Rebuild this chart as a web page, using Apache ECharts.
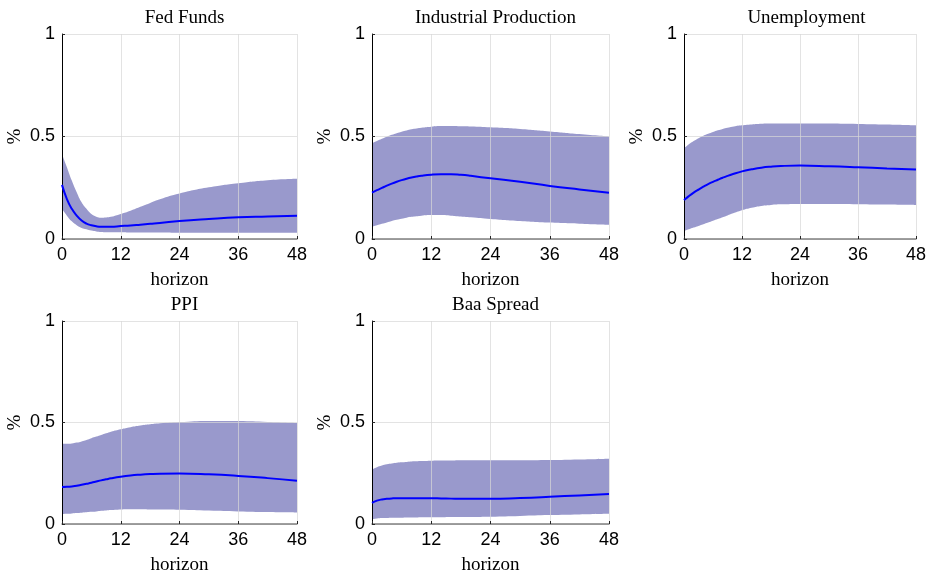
<!DOCTYPE html>
<html>
<head>
<meta charset="utf-8">
<script src="https://cdn.jsdelivr.net/npm/echarts@6/dist/echarts.min.js"></script>
<style>
  html, body { margin: 0; padding: 0; background: #fff; }
  #chart { width: 929px; height: 576px; }
</style>
</head>
<body>
<div id="chart"></div>
<script>
// horizons shared by every panel
const horizons = [0, 1, 2, 3, 4, 5, 6, 7, 8, 9, 10, 12, 14, 16, 18, 20, 24, 30, 36, 42, 48]

const fedUpper = [0.415, 0.35, 0.285, 0.228, 0.179, 0.147, 0.122, 0.109, 0.104, 0.105, 0.108, 0.122, 0.138, 0.157, 0.176, 0.194, 0.222, 0.252, 0.272, 0.287, 0.294]
const fedMean = [0.264, 0.195, 0.147, 0.114, 0.09, 0.075, 0.067, 0.062, 0.06, 0.06, 0.06, 0.063, 0.066, 0.07, 0.074, 0.078, 0.088, 0.098, 0.106, 0.11, 0.114]
const fedLower = [0.147, 0.114, 0.086, 0.067, 0.054, 0.047, 0.041, 0.037, 0.034, 0.033, 0.033, 0.033, 0.032, 0.032, 0.032, 0.032, 0.031, 0.031, 0.031, 0.031, 0.031]

const ipUpper = [0.467, 0.478, 0.489, 0.499, 0.508, 0.516, 0.523, 0.529, 0.535, 0.539, 0.543, 0.548, 0.551, 0.551, 0.55, 0.549, 0.545, 0.537, 0.525, 0.512, 0.5]
const ipMean = [0.226, 0.238, 0.249, 0.26, 0.27, 0.279, 0.287, 0.294, 0.3, 0.305, 0.309, 0.314, 0.316, 0.316, 0.313, 0.308, 0.296, 0.279, 0.259, 0.242, 0.226]
const ipLower = [0.06, 0.067, 0.074, 0.081, 0.088, 0.094, 0.099, 0.104, 0.108, 0.111, 0.114, 0.117, 0.117, 0.114, 0.11, 0.106, 0.098, 0.088, 0.08, 0.075, 0.07]

const unUpper = [0.442, 0.462, 0.478, 0.492, 0.504, 0.513, 0.522, 0.53, 0.537, 0.543, 0.548, 0.555, 0.559, 0.562, 0.563, 0.564, 0.564, 0.563, 0.561, 0.558, 0.554]
const unMean = [0.19, 0.209, 0.226, 0.241, 0.255, 0.268, 0.279, 0.289, 0.299, 0.308, 0.316, 0.33, 0.34, 0.348, 0.353, 0.356, 0.358, 0.355, 0.35, 0.344, 0.339]
const unLower = [0.04, 0.048, 0.056, 0.064, 0.072, 0.08, 0.089, 0.097, 0.106, 0.115, 0.124, 0.14, 0.152, 0.161, 0.166, 0.169, 0.171, 0.171, 0.17, 0.168, 0.166]

const ppiUpper = [0.395, 0.395, 0.397, 0.401, 0.407, 0.414, 0.423, 0.431, 0.439, 0.447, 0.455, 0.467, 0.477, 0.485, 0.491, 0.496, 0.502, 0.508, 0.507, 0.503, 0.498]
const ppiMean = [0.182, 0.183, 0.185, 0.188, 0.193, 0.198, 0.203, 0.209, 0.215, 0.22, 0.225, 0.233, 0.239, 0.243, 0.246, 0.248, 0.249, 0.245, 0.237, 0.226, 0.213]
const ppiLower = [0.049, 0.05, 0.052, 0.054, 0.056, 0.058, 0.06, 0.062, 0.065, 0.067, 0.069, 0.072, 0.073, 0.073, 0.072, 0.071, 0.07, 0.066, 0.062, 0.059, 0.057]

const baaUpper = [0.268, 0.28, 0.288, 0.294, 0.298, 0.302, 0.304, 0.306, 0.308, 0.309, 0.31, 0.312, 0.313, 0.313, 0.314, 0.314, 0.314, 0.314, 0.315, 0.318, 0.322]
const baaMean = [0.104, 0.115, 0.121, 0.124, 0.126, 0.127, 0.127, 0.127, 0.127, 0.127, 0.127, 0.127, 0.126, 0.125, 0.124, 0.124, 0.124, 0.128, 0.134, 0.141, 0.148]
const baaLower = [0.024, 0.027, 0.029, 0.03, 0.031, 0.031, 0.031, 0.032, 0.032, 0.032, 0.033, 0.033, 0.033, 0.034, 0.034, 0.035, 0.036, 0.04, 0.044, 0.047, 0.05]

const panels = [
  { title: 'Fed Funds', upper: fedUpper, mean: fedMean, lower: fedLower },
  { title: 'Industrial Production', upper: ipUpper, mean: ipMean, lower: ipLower },
  { title: 'Unemployment', upper: unUpper, mean: unMean, lower: unLower },
  { title: 'PPI', upper: ppiUpper, mean: ppiMean, lower: ppiLower },
  { title: 'Baa Spread', upper: baaUpper, mean: baaMean, lower: baaLower },
]

// plot boxes (left, top, width, height)
const boxes = [
  [62, 34, 235, 205],
  [372, 34, 237, 205],
  [684, 34, 235, 205],
  [62, 321, 235, 204],
  [372, 321, 237, 204],
]

const serif = '"Liberation Serif", "DejaVu Serif", serif'
const sans = '"Liberation Sans", Arial, sans-serif'
const gridColor = 'rgba(215,215,215,0.7)'

const chart = echarts.init(document.getElementById('chart'))

const grid = []
const xAxis = []
const yAxis = []
const title = []
const series = []

function pairs(vals) {
  return horizons.map(function (h, k) { return [h, vals[k]] })
}

panels.forEach(function (p, i) {
  const b = boxes[i]
  grid.push({ left: b[0], top: b[1], width: b[2], height: b[3] })
  title.push({
    text: p.title,
    left: b[0] + b[2] / 2,
    top: b[1] - 30,
    textAlign: 'center',
    textStyle: { fontFamily: serif, fontSize: 19, fontWeight: 'normal', color: '#000' },
  })
  xAxis.push({
    gridIndex: i,
    type: 'value',
    min: 0,
    max: 48,
    interval: 12,
    z: 3,
    name: 'horizon',
    nameLocation: 'middle',
    nameGap: 32,
    nameTextStyle: { fontFamily: serif, fontSize: 19, color: '#000' },
    axisLine: { lineStyle: { color: '#808080', width: 1.5 } },
    axisTick: { show: true, inside: true, length: 3, lineStyle: { color: '#262626' } },
    axisLabel: { fontFamily: sans, fontSize: 18, color: '#000', margin: 7 },
    splitLine: { show: true, lineStyle: { color: gridColor, width: 1 } },
  })
  yAxis.push({
    gridIndex: i,
    type: 'value',
    min: 0,
    max: 1,
    interval: 0.5,
    z: 3,
    name: '%',
    nameLocation: 'middle',
    nameGap: 37,
    nameRotate: 90,
    nameTextStyle: { fontFamily: serif, fontSize: 19, color: '#000' },
    axisLine: { show: true, lineStyle: { color: '#000', width: 1 } },
    axisTick: { show: true, inside: true, length: 3, lineStyle: { color: '#262626' } },
    axisLabel: { fontFamily: sans, fontSize: 18, color: '#000', margin: 7 },
    splitLine: { show: true, lineStyle: { color: gridColor, width: 1 } },
  })
  // band: upper bound filled down to 0, then lower bound filled white on top
  series.push({
    type: 'line',
    xAxisIndex: i,
    yAxisIndex: i,
    smooth: true,
    symbol: 'none',
    silent: true,
    lineStyle: { width: 0, opacity: 0 },
    areaStyle: { color: '#9999cc', opacity: 1, origin: 'start' },
    data: pairs(p.upper),
    z: 1,
  })
  series.push({
    type: 'line',
    xAxisIndex: i,
    yAxisIndex: i,
    smooth: true,
    symbol: 'none',
    silent: true,
    lineStyle: { width: 0, opacity: 0 },
    areaStyle: { color: '#ffffff', opacity: 1, origin: 'start' },
    data: pairs(p.lower),
    z: 2,
  })
  series.push({
    type: 'line',
    xAxisIndex: i,
    yAxisIndex: i,
    smooth: true,
    symbol: 'none',
    lineStyle: { color: '#0000ff', width: 2 },
    data: pairs(p.mean),
    z: 5,
  })
})

chart.setOption({
  animation: false,
  title: title,
  grid: grid,
  xAxis: xAxis,
  yAxis: yAxis,
  series: series,
})
</script>
</body>
</html>
